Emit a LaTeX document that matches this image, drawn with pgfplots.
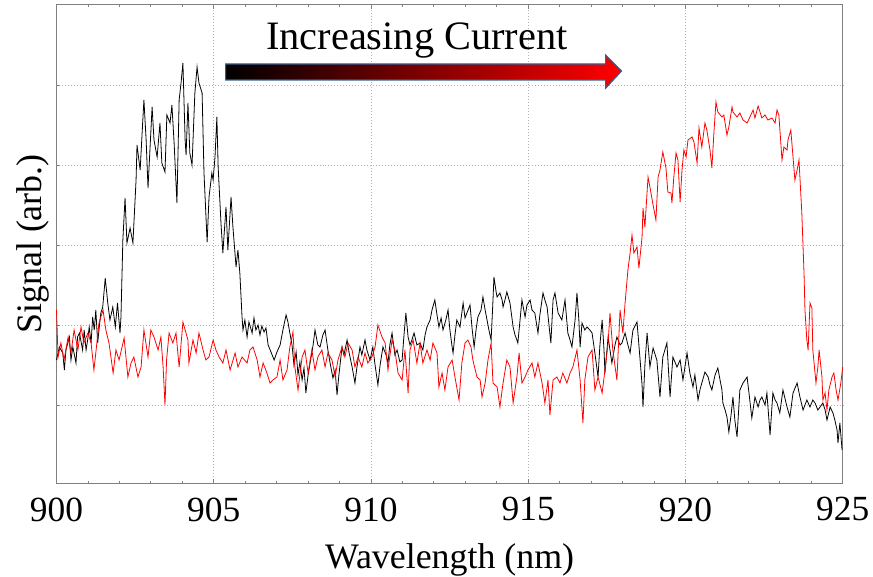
\documentclass[border=0pt]{standalone}
\usepackage{pgfplots}
\pgfplotsset{compat=1.18}
\usepackage{fontspec}
\setmainfont{Liberation Serif}
\usetikzlibrary{calc}
\definecolor{arrowedge}{HTML}{3A5F8F}
\begin{document}
\begin{tikzpicture}
\begin{axis}[
  name=ax,
  scale only axis, width=786.2bp, height=478bp,
  xmin=900, xmax=925, ymin=0, ymax=478,
  xtick={900,905,...,925}, minor x tick num=4,
  ytick={78,158,238,318,398}, yticklabels={},
  xtick pos=both, xticklabel pos=lower, ytick pos=left,
  tick align=inside,
  major tick length=4bp, minor tick length=2.5bp,
  tick style={black!50, line width=0.8pt},
  axis line style={black!50, line width=1pt},
  xmajorgrids, ymajorgrids,
  major grid style={black!30, line width=0.7pt, dash pattern=on 1pt off 2pt},
  /pgf/number format/assume math mode=true,
  /pgf/number format/1000 sep={},
  xticklabel style={font=\fontsize{35.5}{42}\selectfont, yshift=-11bp},
  xlabel={Wavelength (nm)},
  xlabel style={font=\fontsize{36}{43}\selectfont, at={(axis description cs:0.5,0)}, anchor=base, yshift=-85bp},
  ylabel={Signal (arb.)},
  ylabel style={font=\fontsize{36}{43}\selectfont, at={(axis description cs:-0.0191,0.5)}, anchor=base},
  clip=false,
]
\addplot[black, line width=0.8pt] coordinates {
(900.00,123)(900.09,136)(900.20,130)(900.25,113)(900.30,133)(900.41,146)(900.46,123)(900.52,136)(900.62,120)(900.67,146)(900.73,150)(900.83,133)(900.88,153)(900.94,133)(900.99,143)
(901.04,156)(901.10,140)(901.15,166)(901.20,153)(901.25,173)(901.31,140)(901.36,156)(901.41,170)(901.47,176)(901.55,205)(901.63,180)(901.70,163)(901.79,176)(901.87,156)(901.94,180)
(902.02,150)(902.05,166)(902.11,243)(902.18,285)(902.24,240)(902.34,255)(902.43,240)(902.53,303)(902.56,338)(902.66,313)(902.75,366)(902.78,383)(902.85,343)(902.91,295)
(903.04,376)(903.10,343)(903.20,326)(903.29,360)(903.35,320)(903.45,311)(903.51,368)(903.61,360)(903.67,378)(903.74,340)(903.83,280)(903.90,383)(903.96,400)
(904.02,420)(904.09,343)(904.12,328)(904.18,380)(904.24,330)(904.31,318)(904.40,390)(904.47,416)(904.53,400)(904.63,390)(904.69,310)(904.79,241)(904.85,286)(904.94,310)(904.98,303)
(905.04,326)(905.10,366)(905.14,316)(905.23,260)(905.29,230)(905.39,276)(905.45,233)(905.55,286)(905.61,256)(905.71,216)(905.77,233)(905.83,210)(905.90,166)(905.93,153)(905.99,163)
(906.06,146)(906.12,161)(906.22,150)(906.28,165)(906.34,153)(906.41,158)(906.47,148)(906.53,157)(906.60,151)(906.66,155)(906.73,138)(906.82,131)(906.92,123)
(907.01,131)(907.11,138)(907.20,153)(907.30,168)(907.36,161)(907.42,150)(907.49,138)(907.55,118)(907.62,131)(907.68,108)(907.74,121)(907.81,103)(907.87,115)(907.93,90)(908.00,108)
(908.09,125)(908.16,138)(908.22,153)(908.31,138)(908.38,136)(908.47,148)(908.54,153)(908.63,133)(908.70,120)(908.79,105)(908.86,113)(908.92,88)(908.98,108)
(909.08,136)(909.14,128)(909.24,143)(909.30,131)(909.40,116)(909.49,100)(909.55,115)(909.65,136)(909.71,128)(909.81,143)(909.87,133)(909.97,123)
(910.06,136)(910.13,118)(910.22,98)(910.29,118)(910.38,136)(910.48,128)(910.54,120)(910.60,138)(910.67,150)(910.76,128)(910.83,133)(910.92,121)(910.99,123)
(911.05,148)(911.11,170)(911.18,146)(911.24,138)(911.30,143)(911.37,150)(911.46,138)(911.56,140)(911.65,133)(911.72,148)(911.78,156)(911.88,163)(911.94,173)
(912.03,183)(912.10,168)(912.16,156)(912.23,165)(912.29,153)(912.38,163)(912.45,173)(912.51,153)(912.58,136)(912.61,130)(912.67,148)(912.73,163)(912.83,156)(912.93,180)(912.99,165)
(913.05,170)(913.15,178)(913.21,156)(913.28,136)(913.34,153)(913.40,166)(913.50,173)(913.56,186)(913.63,173)(913.69,163)(913.75,153)(913.82,143)(913.88,183)(913.91,206)(913.98,191)
(914.01,186)(914.10,190)(914.17,183)(914.20,176)(914.26,183)(914.32,191)(914.42,180)(914.52,156)(914.58,148)(914.64,143)(914.67,140)(914.74,163)(914.80,183)(914.90,166)(914.96,178)
(915.06,183)(915.12,173)(915.21,170)(915.31,150)(915.37,168)(915.47,190)(915.53,183)(915.60,176)(915.66,158)(915.72,140)(915.79,183)(915.85,190)(915.95,170)
(916.07,163)(916.17,183)(916.26,150)(916.33,143)(916.39,136)(916.49,163)(916.55,190)(916.61,163)(916.65,136)(916.71,160)(916.80,153)(916.87,156)(916.96,153)
(917.03,150)(917.12,130)(917.22,106)(917.28,138)(917.35,163)(917.41,133)(917.44,110)(917.54,146)(917.60,133)(917.66,120)(917.76,138)(917.82,146)(917.92,138)(917.98,140)
(918.08,150)(918.17,138)(918.24,130)(918.33,153)(918.46,161)(918.55,126)(918.62,98)(918.65,76)(918.71,118)(918.78,150)(918.87,116)(918.97,135)
(919.09,123)(919.19,86)(919.28,126)(919.41,140)(919.51,86)(919.60,126)(919.73,116)(919.83,123)(919.92,103)
(920.05,130)(920.14,110)(920.24,96)(920.30,108)(920.40,83)(920.46,93)(920.52,100)(920.62,111)(920.72,106)(920.78,98)(920.84,93)(920.94,108)
(921.03,115)(921.10,103)(921.16,93)(921.19,80)(921.26,73)(921.32,66)(921.38,51)(921.45,68)(921.51,86)(921.57,63)(921.64,46)(921.73,93)(921.83,100)(921.96,106)
(922.02,90)(922.11,65)(922.21,86)(922.31,76)(922.37,83)(922.43,86)(922.53,78)(922.59,90)(922.69,48)(922.78,90)(922.85,83)(922.91,80)
(923.00,70)(923.10,93)(923.23,76)(923.32,66)(923.42,90)(923.55,100)(923.64,86)(923.74,73)(923.86,83)(923.96,76)
(924.05,83)(924.12,80)(924.21,73)(924.28,76)(924.37,80)(924.44,73)(924.50,63)(924.60,76)(924.69,70)(924.75,63)(924.82,53)(924.85,40)(924.91,60)(924.98,33)
};
\addplot[red, line width=0.8pt] coordinates {
(900.00,173)(900.05,126)(900.14,140)(900.24,123)(900.37,146)(900.46,130)(900.56,153)(900.68,133)(900.78,156)(900.87,140)
(901.00,150)(901.10,140)(901.19,113)(901.26,133)(901.35,160)(901.48,173)(901.57,153)(901.67,140)(901.80,110)(901.89,133)(901.99,123)
(902.15,145)(902.27,106)(902.37,120)(902.46,126)(902.59,106)(902.69,116)(902.78,153)(902.91,126)
(903.00,153)(903.10,146)(903.23,133)(903.32,146)(903.39,116)(903.45,78)(903.50,123)(903.58,150)(903.70,140)(903.80,150)(903.90,116)
(904.02,161)(904.18,143)(904.21,120)(904.34,143)(904.44,130)(904.53,150)(904.66,133)(904.75,123)(904.85,126)(904.98,143)
(905.07,133)(905.17,126)(905.29,120)(905.39,133)(905.52,113)(905.68,130)(905.77,116)(905.90,126)
(906.06,120)(906.15,133)(906.25,136)(906.38,123)(906.47,106)(906.57,120)(906.69,110)(906.79,100)(906.88,103)
(907.01,106)(907.11,123)(907.20,103)(907.33,113)(907.42,136)(907.52,151)(907.58,116)(907.68,93)(907.81,126)(907.90,133)(908.00,110)
(908.12,133)(908.22,113)(908.31,126)(908.44,133)(908.54,116)(908.63,130)(908.76,123)(908.86,106)(908.95,123)
(909.08,136)(909.17,126)(909.27,140)(909.40,133)(909.49,116)(909.59,126)(909.71,116)(909.81,130)(909.90,120)
(910.03,126)(910.13,136)(910.22,158)(910.35,146)(910.45,140)(910.54,113)(910.67,143)(910.76,133)(910.86,110)(910.99,103)
(911.08,133)(911.18,90)(911.24,133)(911.34,143)(911.46,120)(911.56,140)(911.65,120)(911.78,133)(911.88,123)(911.97,140)
(912.10,130)(912.16,96)(912.26,110)(912.35,93)(912.45,116)(912.58,123)(912.67,106)(912.80,83)(912.89,120)(912.99,140)
(913.08,143)(913.18,136)(913.24,123)(913.37,106)(913.47,103)(913.53,86)(913.63,100)(913.72,123)(913.82,140)(913.88,100)
(914.01,96)(914.10,76)(914.20,100)(914.32,123)(914.42,116)(914.52,80)(914.64,106)(914.71,130)(914.80,100)(914.90,106)(914.99,113)
(915.12,120)(915.21,106)(915.31,120)(915.44,100)(915.53,80)(915.63,103)(915.69,68)(915.79,103)(915.91,106)
(916.01,100)(916.10,110)(916.23,100)(916.33,110)(916.42,116)(916.55,133)(916.65,103)(916.74,60)(916.80,103)(916.90,126)
(917.03,133)(917.12,93)(917.22,106)(917.35,90)(917.44,113)(917.54,140)(917.60,170)(917.69,133)(917.82,103)(917.92,173)
(918.01,150)(918.08,180)(918.17,213)(918.24,230)(918.30,248)(918.36,230)(918.46,236)(918.52,215)(918.62,246)(918.65,275)(918.71,256)(918.81,306)(918.87,296)(918.97,278)
(919.06,263)(919.13,306)(919.19,313)(919.28,331)(919.38,315)(919.44,291)(919.54,290)(919.57,280)(919.63,306)(919.70,330)(919.76,323)(919.83,281)(919.89,313)(919.95,333)
(920.02,326)(920.08,343)(920.21,346)(920.27,341)(920.37,320)(920.43,355)(920.52,336)(920.62,360)(920.68,353)(920.78,333)(920.84,315)(920.91,353)(920.97,381)
(921.03,371)(921.16,366)(921.22,368)(921.32,348)(921.38,356)(921.48,376)(921.51,371)(921.64,366)(921.73,370)(921.83,363)(921.96,360)
(922.05,366)(922.15,373)(922.21,365)(922.31,377)(922.43,365)(922.53,368)(922.62,363)(922.75,365)(922.85,360)(922.91,373)(922.97,368)
(923.07,323)(923.13,336)(923.23,333)(923.26,343)(923.35,353)(923.42,326)(923.48,303)(923.55,313)(923.61,323)(923.70,270)(923.77,210)(923.80,173)(923.86,143)(923.90,133)(923.96,180)
(924.02,175)(924.05,133)(924.15,100)(924.21,116)(924.25,133)(924.34,106)(924.37,83)(924.44,90)(924.50,73)(924.56,93)(924.66,106)(924.72,110)(924.79,93)(924.85,83)(924.94,100)(925.00,116)
};
\node[font=\fontsize{40.5}{48}\selectfont, anchor=base] at (axis cs:911.46,433) {Increasing Current};
\shadedraw[left color=black, right color=red, draw=arrowedge, line width=1.1pt, line join=miter]
  (axis cs:905.38,403) -- (axis cs:917.46,403) -- (axis cs:917.46,394.7) -- (axis cs:917.97,412)
  -- (axis cs:917.46,428) -- (axis cs:917.46,419) -- (axis cs:905.38,419) -- cycle;
\end{axis}
\pgfresetboundingbox
\path ($(ax.south west)+(-56.5bp,-94bp)$) rectangle ($(ax.north east)+(30.3bp,5bp)$);
\end{tikzpicture}
\end{document}
